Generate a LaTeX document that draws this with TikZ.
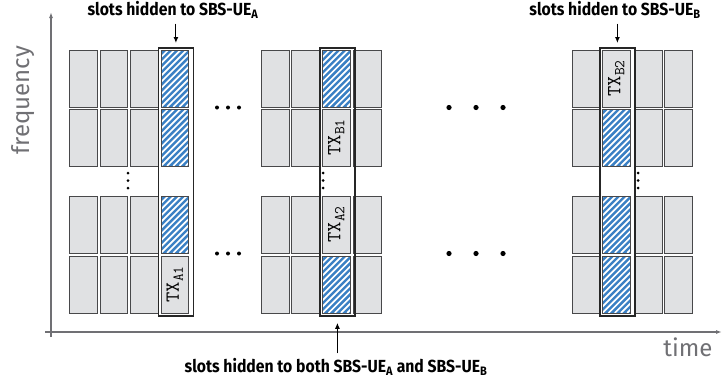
\documentclass[tikz,border=0pt]{standalone}
\usepackage{fontspec}
\setsansfont{Fira Sans}
\newfontfamily\notefont[FakeStretch=0.9]{Fira Sans}
\usetikzlibrary{arrows.meta, positioning}
\definecolor{slotgray}{RGB}{224, 225, 227}
\definecolor{slotedge}{RGB}{72, 72, 74}
\definecolor{hidblue}{RGB}{58, 128, 196}
\definecolor{axisgray}{RGB}{112, 112, 116}

\tikzset{
  slot/.style={draw=slotedge, fill=slotgray, line width=0.8pt, inner sep=0pt,
    minimum width=27.5pt, minimum height=57pt, anchor=north west},
  % blue slot with white diagonal stripes
  hidslot/.style={slot, fill=hidblue,
    path picture={
      \foreach \k in {-62,-55.8,...,30}
        \draw[white, line width=1.7pt]
          ([xshift=\k pt]path picture bounding box.south west) -- ++(64pt,64pt);
    }},
  txslot/.style={slot},
  txlabel/.style={rotate=90, font=\ttfamily\fontsize{20}{20}\selectfont, inner sep=0pt},
  frame/.style={draw=black!85, line width=1.8pt, inner sep=0pt,
    minimum width=35pt, minimum height=268pt, anchor=north west},
  note/.style={font=\notefont\bfseries\fontsize{17.5}{19}\selectfont, inner sep=1pt},
  pointer/.style={-{Latex[length=6pt, width=5pt]}, line width=1.1pt},
  axis/.style={draw=axisgray, line width=1.4pt, -{Latex[length=6pt, width=4pt]}},
  axislabel/.style={font=\sffamily\fontsize{24}{24}\selectfont, text=axisgray}
}
\newcommand{\txsub}[1]{\raisebox{-4pt}{\fontsize{15}{15}\selectfont #1}}

\begin{document}
\begin{tikzpicture}[x=1pt, y=-1pt]
  \useasboundingbox (0,0) rectangle (723,383);

  % axes
  \coordinate (o) at (51,332);
  \coordinate (ybot) at (51,337);
  \coordinate (ytop) at (51,12);
  \coordinate (xleft) at (45,332);
  \coordinate (xright) at (722,332);
  \draw[axis] (ybot) -- (ytop);
  \draw[axis] (xleft) -- (xright);
  \node[axislabel, rotate=90] (freq) at (23,100) {frequency};
  \node[axislabel] (time) at (688,347) {time};

  % plain slots, one column at a time
  \foreach \c/\x in {a1/69, a2/99.5, a3/130, b1/261, b2/291, b4/353, c1/572, c3/634, c4/664}
    \foreach \r/\y in {1/49.5, 2/108.5, 3/195.5, 4/255.5}
      \node[slot] (s-\c-\r) at (\x,\y) {};

  % transmitting slots
  \node[txslot] (h-a-4) at (160.5,255.5) {};
  \node[txlabel] (txA1) at (h-a-4.center) {TX\txsub{A1}};
  \node[txslot] (h-b-2) at (322,108.5) {};
  \node[txlabel] (txB1) at (h-b-2.center) {TX\txsub{B1}};
  \node[txslot] (h-b-3) at (322,195.5) {};
  \node[txlabel] (txA2) at (h-b-3.center) {TX\txsub{A2}};
  \node[txslot] (h-c-1) at (602,49.5) {};
  \node[txlabel] (txB2) at (h-c-1.center) {TX\txsub{B2}};

  % hidden slots
  \node[hidslot] (h-a-1) at (160.5,49.5) {};
  \node[hidslot] (h-a-2) at (160.5,108.5) {};
  \node[hidslot] (h-a-3) at (160.5,195.5) {};
  \node[hidslot] (h-b-1) at (322,49.5) {};
  \node[hidslot] (h-b-4) at (322,255.5) {};
  \node[hidslot] (h-c-2) at (602,108.5) {};
  \node[hidslot] (h-c-3) at (602,195.5) {};
  \node[hidslot] (h-c-4) at (602,255.5) {};

  % frames round the hidden columns
  \node[frame] (frA) at (157.5,47) {};
  \node[frame] (frAB) at (319,47) {};
  \node[frame] (frB) at (599,47) {};

  % dots
  \foreach \x in {217, 228, 239} {
    \fill (\x,107.5) circle (2pt);
    \fill (\x,253.5) circle (2pt);
  }
  \foreach \x in {449, 476, 503} {
    \fill (\x,107.5) circle (2.6pt);
    \fill (\x,253.5) circle (2.6pt);
  }
  \foreach \x in {128, 323, 638}
    \foreach \y in {173, 180.5, 188}
      \fill (\x,\y) circle (1.5pt);

  % notes
  \node[note] (noteA) at (173,10) {slots hidden to SBS-UE\textsubscript{A}};
  \node[note] (noteB) at (615,10) {slots hidden to SBS-UE\textsubscript{B}};
  \node[note] (noteAB) at (336,367) {slots hidden to both SBS-UE\textsubscript{A} and SBS-UE\textsubscript{B}};
  \draw[pointer, shorten <=4pt, shorten >=4pt] (frA.north |- noteA.south) -- (frA.north);
  \draw[pointer, shorten <=4pt, shorten >=4pt] (frB.north |- noteB.south) -- (frB.north);
  \draw[pointer, shorten <=4pt, shorten >=6pt] (frAB.south |- noteAB.north) -- (frAB.south);
\end{tikzpicture}
\end{document}
